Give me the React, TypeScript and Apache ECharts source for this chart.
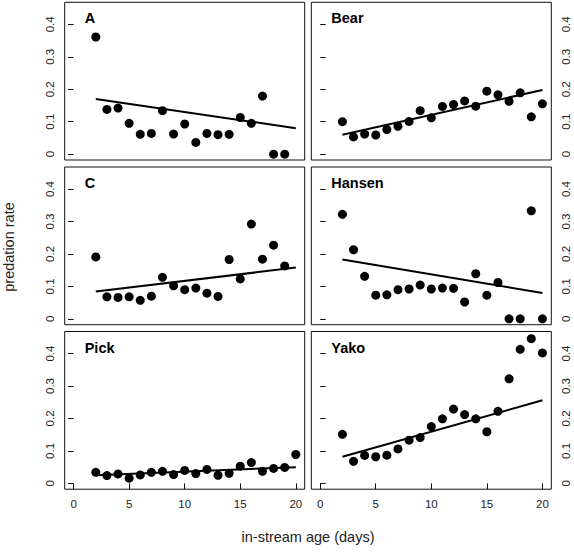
import React, { useEffect, useRef } from 'react';
import * as echarts from 'echarts';

const panelNames = ['A', 'Bear', 'C', 'Hansen', 'Pick', 'Yako'];
const daysTo19 = [2, 3, 4, 5, 6, 7, 8, 9, 10, 11, 12, 13, 14, 15, 16, 17, 18, 19];
const daysTo20 = [2, 3, 4, 5, 6, 7, 8, 9, 10, 11, 12, 13, 14, 15, 16, 17, 18, 19, 20];
const rateA = [0.361, 0.138, 0.142, 0.095, 0.061, 0.064, 0.134, 0.062, 0.093, 0.036, 0.064, 0.060, 0.061, 0.113, 0.095, 0.179, 0, 0];
const rateBear = [0.100, 0.053, 0.062, 0.059, 0.076, 0.086, 0.101, 0.134, 0.112, 0.147, 0.153, 0.164, 0.148, 0.194, 0.183, 0.163, 0.189, 0.115, 0.155];
const rateC = [0.191, 0.068, 0.066, 0.068, 0.057, 0.070, 0.128, 0.102, 0.090, 0.095, 0.079, 0.069, 0.183, 0.123, 0.292, 0.184, 0.227, 0.163];
const rateHansen = [0.322, 0.213, 0.131, 0.073, 0.074, 0.090, 0.092, 0.104, 0.092, 0.095, 0.094, 0.052, 0.139, 0.073, 0.112, 0, 0, 0.333, 0];
const ratePick = [0.034, 0.024, 0.029, 0.016, 0.026, 0.034, 0.037, 0.027, 0.040, 0.030, 0.043, 0.025, 0.031, 0.053, 0.064, 0.037, 0.046, 0.049, 0.089];
const rateYako = [0.151, 0.068, 0.086, 0.082, 0.087, 0.106, 0.133, 0.141, 0.175, 0.199, 0.229, 0.212, 0.199, 0.159, 0.222, 0.322, 0.413, 0.446, 0.402];
const fitDays = [2, 20];
const fitStart = [0.170, 0.060, 0.084, 0.183, 0.025, 0.082];
const fitEnd = [0.080, 0.198, 0.158, 0.080, 0.050, 0.256];
const xTicks = [0, 5, 10, 15, 20];
const yTicks = [0, 0.1, 0.2, 0.3, 0.4];

const panelDays = [daysTo19, daysTo20, daysTo19, daysTo20, daysTo20, daysTo20];
const panelRates = [rateA, rateBear, rateC, rateHansen, ratePick, rateYako];

const FONT = '"Liberation Sans", Arial, Helvetica, sans-serif';
const colLeft = [64.7, 311.3];
const colWidth = 240;
const rowTop = [2.3, 167, 331.5];
const rowHeight = 157.7;

export default function App() {
  const ref = useRef<HTMLDivElement>(null);
  useEffect(() => {
    if (!ref.current) return;
    const chart = echarts.init(ref.current, null, { renderer: 'svg' });
    const grids: any[] = [];
    const xAxes: any[] = [];
    const yAxes: any[] = [];
    const series: any[] = [];
    const graphics: any[] = [];
    panelNames.forEach((name, i) => {
      const col = i % 2;
      const row = Math.floor(i / 2);
      const left = colLeft[col];
      const top = rowTop[row];
      grids.push({
        left, top, width: colWidth, height: rowHeight,
        show: true, borderColor: '#111', borderWidth: 1, backgroundColor: 'transparent',
        containLabel: false,
      });
      const bottomRow = row === 2;
      xAxes.push({
        type: 'value', gridIndex: i, min: -0.8, max: 20.8,
        splitLine: { show: false },
        axisLine: { show: false },
        axisTick: { show: bottomRow, length: 6, lineStyle: { color: '#111' }, customValues: xTicks },
        axisLabel: {
          show: bottomRow, customValues: xTicks, margin: 9,
          fontFamily: FONT, fontSize: 11.5, color: '#222',
        },
      });
      yAxes.push({
        type: 'value', gridIndex: i, min: -0.018, max: 0.468,
        position: col === 0 ? 'left' : 'right',
        splitLine: { show: false },
        axisLine: { show: false },
        axisTick: { show: true, length: 5.5, lineStyle: { color: '#111' }, customValues: yTicks },
        axisLabel: {
          show: true, customValues: yTicks, rotate: 90, margin: col === 0 ? 9 : 9,
          fontFamily: FONT, fontSize: 11.5, color: '#222',
          formatter: (v: number) => (v === 0 ? '0' : v.toFixed(1)),
        },
      });
      series.push({
        type: 'scatter', xAxisIndex: i, yAxisIndex: i,
        symbol: 'circle', symbolSize: 9,
        itemStyle: { color: '#000', opacity: 1 },
        data: panelDays[i].map((d, k) => [d, panelRates[i][k]]),
        silent: true,
      });
      series.push({
        type: 'line', xAxisIndex: i, yAxisIndex: i,
        symbol: 'none',
        lineStyle: { color: '#000', width: 2 },
        data: [[fitDays[0], fitStart[i]], [fitDays[1], fitEnd[i]]],
        silent: true,
      });
      graphics.push({
        type: 'text',
        x: left + 20,
        y: top + 16,
        style: {
          text: name, font: `bold 14.5px ${FONT}`, fill: '#000',
          textAlign: 'left', textVerticalAlign: 'middle',
        },
      });
    });
    graphics.push({
      type: 'text', x: 8.5, y: 247, rotation: Math.PI / 2,
      style: {
        text: 'predation rate', font: `14.5px ${FONT}`, fill: '#222',
        textAlign: 'center', textVerticalAlign: 'middle',
      },
    });
    graphics.push({
      type: 'text', x: 308, y: 537,
      style: {
        text: 'in-stream age (days)', font: `14.5px ${FONT}`, fill: '#222',
        textAlign: 'center', textVerticalAlign: 'middle',
      },
    });
    chart.setOption({
      animation: false,
      backgroundColor: '#fff',
      grid: grids,
      xAxis: xAxes,
      yAxis: yAxes,
      series,
      graphic: graphics,
    });
    return () => chart.dispose();
  }, []);
  return (
    <div
      ref={ref}
      style={{ position: 'absolute', left: 0, top: 0, width: 574, height: 555 }}
    />
  );
}
